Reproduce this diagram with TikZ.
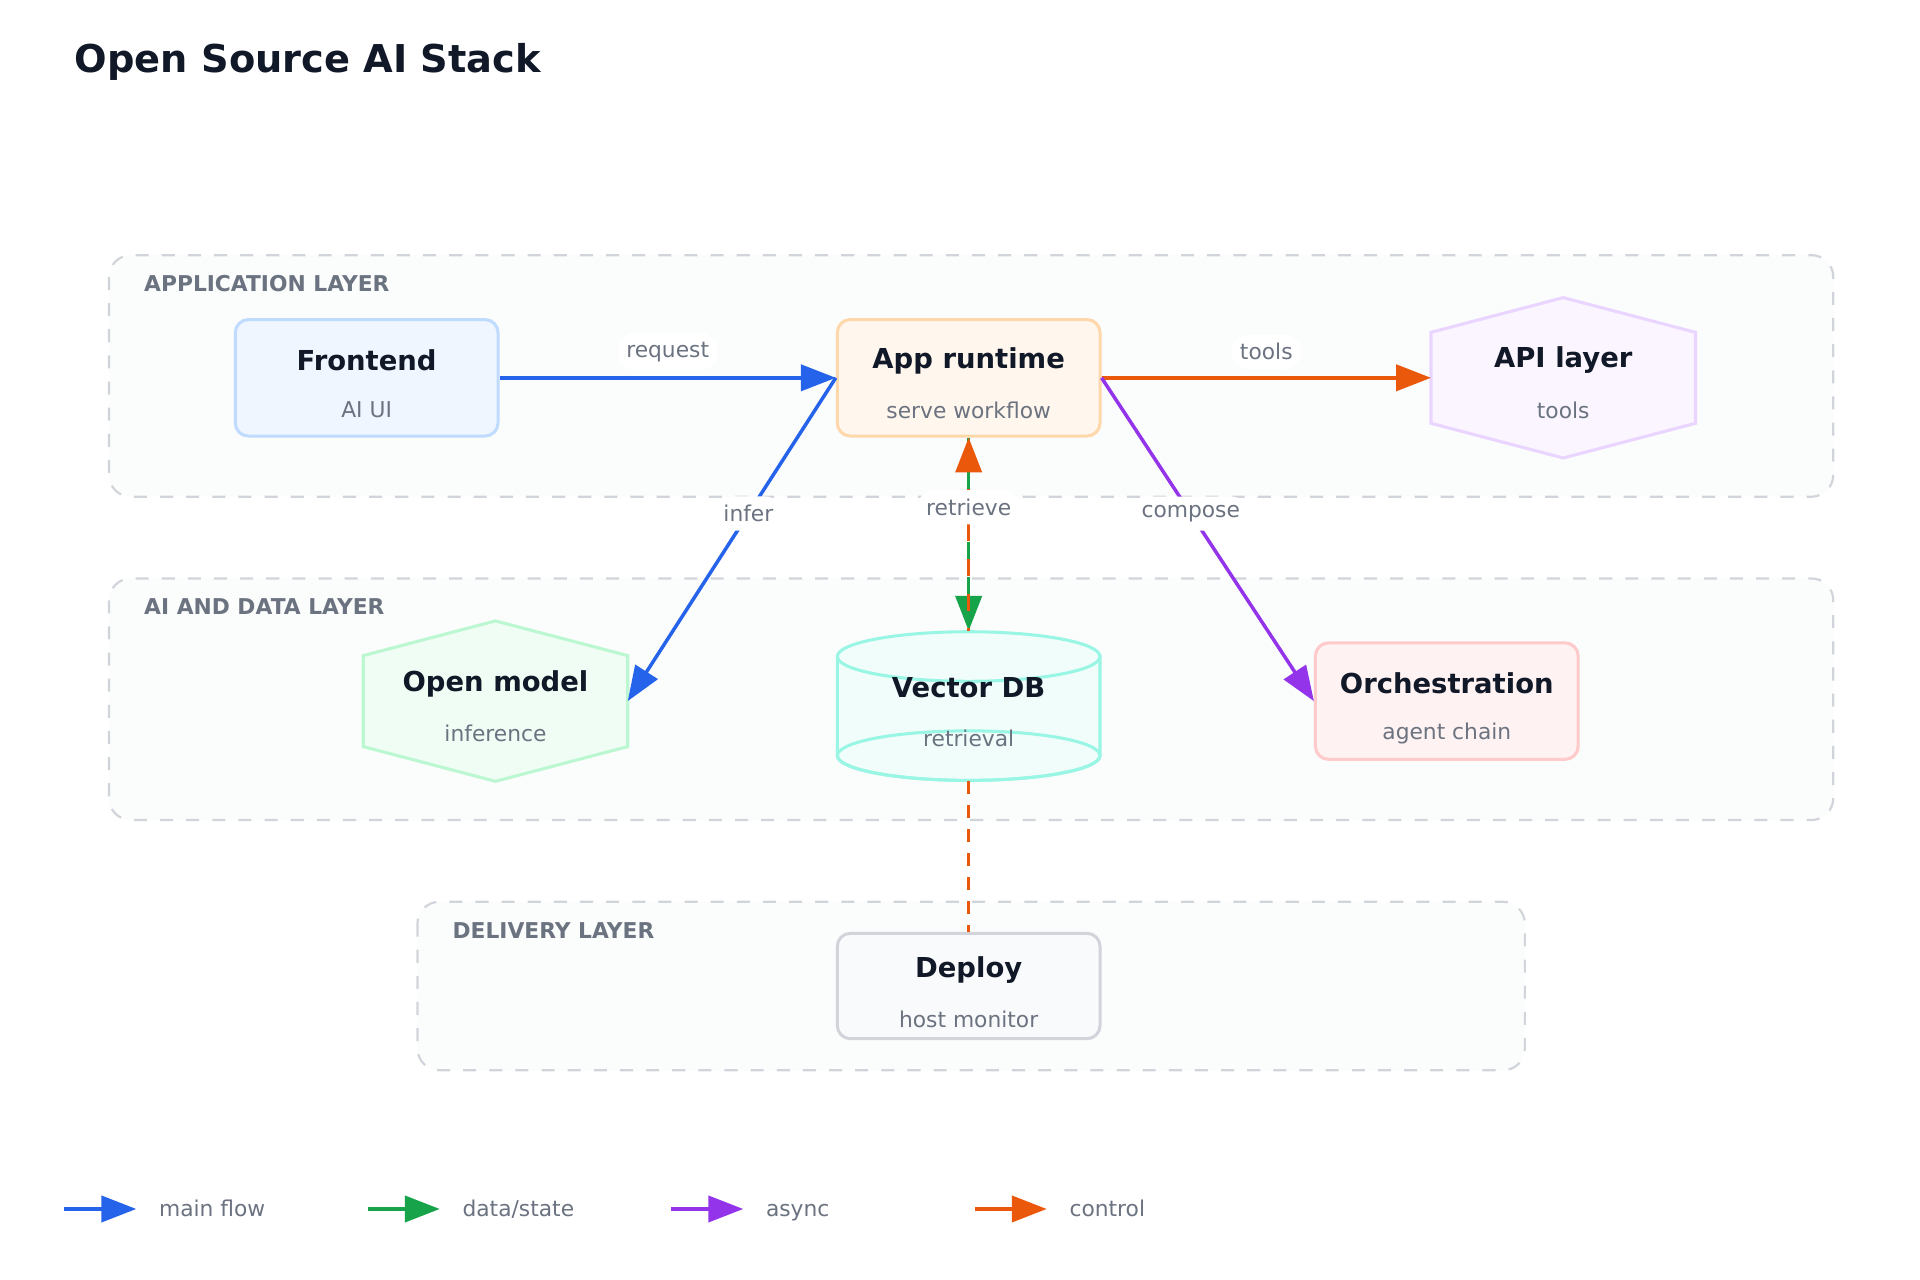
\documentclass[tikz,border=0pt]{standalone}
\usepackage{fontspec}
\setmainfont{DejaVu Sans}
\usetikzlibrary{arrows.meta}
\definecolor{ink}{HTML}{111827}
\definecolor{muted}{HTML}{6B7280}
\definecolor{cblue}{HTML}{2563EB}
\definecolor{cgreen}{HTML}{16A34A}
\definecolor{cpurple}{HTML}{9333EA}
\definecolor{corange}{HTML}{EA580C}
\definecolor{layerline}{HTML}{D1D5DB}
\definecolor{layerfill}{HTML}{FBFCFC}
\definecolor{feline}{HTML}{BFDBFE}\definecolor{fefill}{HTML}{EFF6FF}
\definecolor{appline}{HTML}{FED7AA}\definecolor{appfill}{HTML}{FFF7ED}
\definecolor{apiline}{HTML}{E9D5FF}\definecolor{apifill}{HTML}{FAF5FF}
\definecolor{omline}{HTML}{BBF7D0}\definecolor{omfill}{HTML}{F0FDF4}
\definecolor{vdbline}{HTML}{99F6E4}\definecolor{vdbfill}{HTML}{F0FDFA}
\definecolor{orline}{HTML}{FECACA}\definecolor{orfill}{HTML}{FEF2F2}
\definecolor{depfill}{HTML}{F9FAFB}
\tikzset{
  layer/.style={draw=layerline, dashed, fill=layerfill, rounded corners=5pt, line width=0.5pt},
  layerlabel/.style={anchor=west, text=muted, font=\fontsize{5}{6}\selectfont\bfseries},
  box/.style={draw=#1, rounded corners=3pt, line width=0.7pt, minimum width=2.12cm, minimum height=0.94cm},
  hexbox/.style={minimum width=2.12cm, minimum height=1.28cm},
  ttl/.style={text=ink, font=\fontsize{6.3}{7.5}\selectfont\bfseries},
  sub/.style={text=muted, font=\fontsize{5}{6}\selectfont},
  lbl/.style={fill=white, rounded corners=4pt, text=muted, font=\fontsize{5}{6}\selectfont, inner sep=2pt},
  flow/.style={line width=0.8pt, draw=#1, -{Triangle[length=8pt,width=6pt,fill=#1]}},
}
\newcommand{\hexagon}[3]{%
  \draw[draw=#2, fill=#3, line width=0.7pt] (#1.north) -- ([yshift=-0.28cm]#1.north east) -- ([yshift=0.28cm]#1.south east)
    -- (#1.south) -- ([yshift=0.28cm]#1.south west) -- ([yshift=-0.28cm]#1.north west) -- cycle;}
\begin{document}
\begin{tikzpicture}[x=0.01cm, y=-0.01cm]
\useasboundingbox[fill=white] (0,0) rectangle (1550,1033);
\node[anchor=west, text=ink, font=\fontsize{8.8}{10}\selectfont\bfseries] (title) at (48,50) {Open Source AI Stack};
% layers
\draw[layer] (88,206) rectangle (1480,401);
\draw[layer] (88,467) rectangle (1480,662);
\draw[layer] (337,728) rectangle (1231,864);
\node[layerlabel] (l1) at (104,229) {APPLICATION LAYER};
\node[layerlabel] (l2) at (104,490) {AI AND DATA LAYER};
\node[layerlabel] (l3) at (353,751) {DELIVERY LAYER};
% nodes
\node[box=feline, fill=fefill] (fe) at (296,305) {};
\node[box=appline, fill=appfill] (app) at (782,305) {};
\node[box=orline, fill=orfill] (orch) at (1168,566) {};
\node[box=layerline, fill=depfill, minimum height=0.85cm] (dep) at (782,796) {};
\node[hexbox] (api) at (1262,305) {};
\hexagon{api}{apiline}{apifill}
\node[hexbox] (om) at (400,566) {};
\hexagon{om}{omline}{omfill}
\node[minimum width=2.12cm, minimum height=1.2cm] (vdb) at (782,570) {};
\begin{scope}[draw=vdbline, fill=vdbfill, line width=0.7pt]
  \filldraw (676,530) -- (676,610) arc[start angle=180, end angle=360, x radius=106, y radius=-20] -- (888,530) -- cycle;
  \filldraw (782,530) ellipse[x radius=106, y radius=20];
  \draw (782,610) ellipse[x radius=106, y radius=20];
\end{scope}
\foreach \n/\t/\s in {fe/Frontend/AI UI, app/App runtime/serve workflow, api/API layer/tools,
  om/Open model/inference, orch/Orchestration/agent chain}{
  \node[ttl] at ([yshift=0.14cm]\n.center) {\t};
  \node[sub] at ([yshift=-0.26cm]\n.center) {\s};
}
\node[ttl] at ([yshift=0.13cm]dep.center) {Deploy};
\node[sub] at ([yshift=-0.27cm]dep.center) {host monitor};
\node[ttl] at (782,555) {Vector DB};
\node[sub] at (782,596) {retrieval};
% connectors
\draw[flow=cblue] (fe.east) -- node[lbl, pos=0.5, yshift=0.21cm] {request} (app.west);
\draw[flow=corange] (app.east) -- node[lbl, pos=0.5, yshift=0.21cm] {tools} (api.west);
\draw[flow=cblue] (app.west) -- node[lbl, pos=0.42] {infer} (om.east);
\draw[flow=cpurple] (app.east) -- node[lbl, pos=0.42] {compose} (orch.west);
\draw[line width=0.8pt, draw=cgreen, dash pattern=on 4pt off 4pt, -{Triangle[length=8pt,width=6pt,fill=cgreen]}] (app.south) -- (vdb.north);
\draw[line width=0.8pt, draw=corange, dash pattern=on 4pt off 4pt, dash phase=4pt, {Triangle[length=8pt,width=6pt,fill=corange]}-] (app.south) -- node[lbl, pos=0.36] {retrieve} (vdb.north);
\draw[line width=0.8pt, draw=corange, dash pattern=on 3pt off 2.5pt] (vdb.south) -- (dep.north);
% legend
\foreach \c/\t [count=\i from 0] in {cblue/main flow, cgreen/{data/state}, cpurple/async, corange/control}{
  \coordinate (a\i) at (52+245*\i,976);
  \coordinate (b\i) at (110+245*\i,976);
  \draw[flow=\c] (a\i) -- (b\i);
  \node[anchor=base west, text=muted, font=\fontsize{5}{6}\selectfont] (t\i) at (116+245*\i,982) {\t};
}
\end{tikzpicture}
\end{document}
